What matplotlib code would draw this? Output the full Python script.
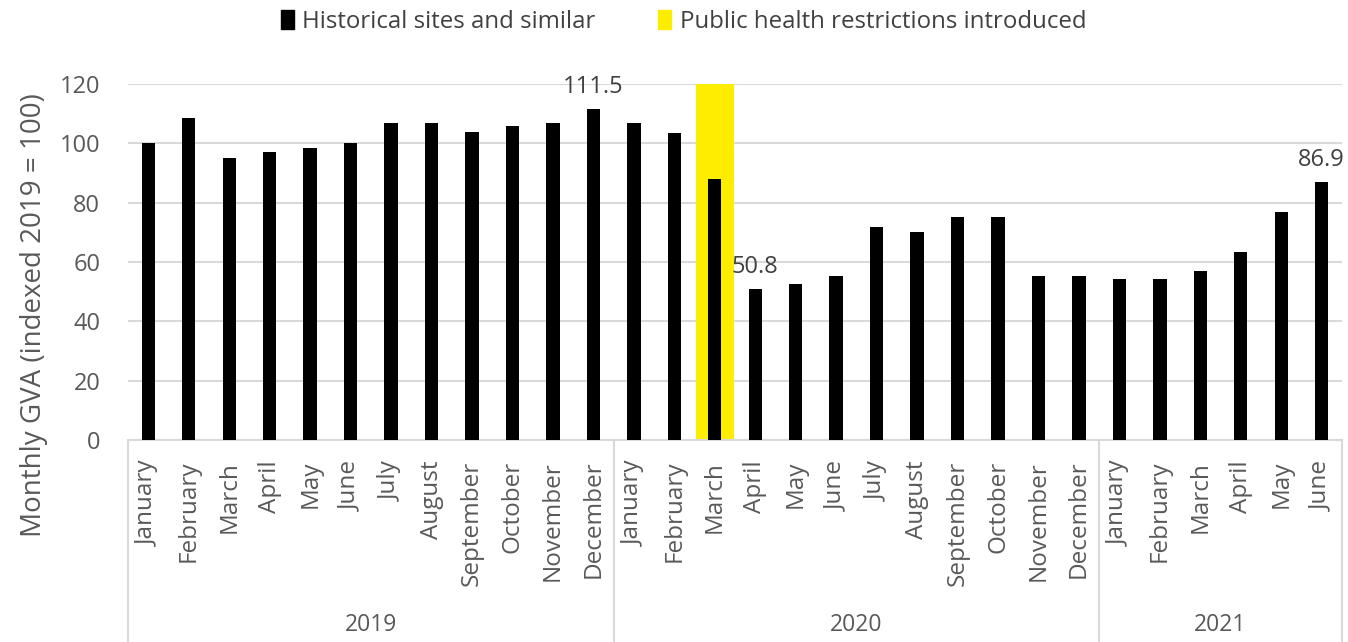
import matplotlib
matplotlib.use("Agg")
import matplotlib.pyplot as plt
import matplotlib.transforms as mtransforms
from matplotlib.lines import Line2D
from matplotlib.patches import Patch

plt.rcParams["font.family"] = ["Open Sans", "DejaVu Sans"]

years = ["2019", "2020", "2021"]
months_per_year = [
    ["January", "February", "March", "April", "May", "June", "July", "August",
     "September", "October", "November", "December"],
    ["January", "February", "March", "April", "May", "June", "July", "August",
     "September", "October", "November", "December"],
    ["January", "February", "March", "April", "May", "June"],
]
gva = [100.0, 108.5, 95.0, 97.0, 98.5, 100.0, 107.0, 107.0, 103.8, 105.8, 107.0, 111.5,
       107.0, 103.5, 88.0, 50.8, 52.6, 55.3, 71.8, 70.1, 75.2, 75.2, 55.3, 55.3,
       54.3, 54.3, 57.0, 63.4, 76.8, 86.9]
labelled = {"111.5": 11, "50.8": 15, "86.9": 29}
restriction_year, restriction_month = "2020", "March"
restriction_height = 120

GREY = "#595959"
GRID = "#d9d9d9"

months = [m for ms in months_per_year for m in ms]
xs = list(range(len(months)))
restr_idx = sum(len(ms) for ms in months_per_year[:years.index(restriction_year)]) \
    + months_per_year[years.index(restriction_year)].index(restriction_month)

fig = plt.figure(figsize=(13.48, 6.42), dpi=100)
ax = fig.add_axes([0.095, 0.3146, 0.9005, 0.5546])

ax.bar([restr_idx], [restriction_height], width=0.94, color="#ffed00", zorder=1)
ax.bar(xs, gva, width=0.33, color="black", zorder=3)

for txt, i in labelled.items():
    ax.text(i, gva[i] + 3.5, txt, ha="center", va="bottom", fontsize=17, color="#404040")

ax.set_ylim(0, 120)
ax.set_xlim(-0.5, len(months) - 0.5)
ax.set_yticks(range(0, 121, 20))
ax.yaxis.grid(True, color=GRID, linewidth=1.5, zorder=0)
ax.set_axisbelow(True)
for s in ["top", "right", "left"]:
    ax.spines[s].set_visible(False)
ax.spines["bottom"].set_color(GRID)
ax.spines["bottom"].set_linewidth(1.5)
ax.tick_params(axis="y", length=0, labelsize=17, colors=GREY, pad=20)
ax.set_xticks(xs)
ax.set_xticklabels(months, rotation=90, fontsize=17.5, color=GREY, va="top", ha="center")
ax.tick_params(axis="x", length=0, pad=15)

ax.set_ylabel("Monthly GVA (indexed 2019 = 100)", fontsize=20, color=GREY)
ax.yaxis.set_label_coords(-0.066, 0.35)

# multi-level category axis
trans = mtransforms.blended_transform_factory(ax.transData, ax.transAxes)
start = -0.5
bounds = [start]
for yr, ms in zip(years, months_per_year):
    end = start + len(ms)
    ax.text((start + end) / 2, -0.52, yr, transform=trans, ha="center", va="center",
            fontsize=16.5, color=GREY)
    bounds.append(end)
    start = end
for b in bounds:
    ax.add_line(Line2D([b, b], [0, -0.6], transform=trans, color=GRID, linewidth=1.5,
                       clip_on=False))

handles = [Patch(color="black", label="Historical sites and similar"),
           Patch(color="#ffed00", label="Public health restrictions introduced")]
fig.legend(handles=handles, loc="center", bbox_to_anchor=(0.507, 0.966), ncol=2,
           frameon=False, fontsize=17.3, handlelength=0.55, handleheight=0.8,
           handletextpad=0.35, columnspacing=2.6, labelcolor="#404040")

fig.savefig("out.png", dpi=100)
